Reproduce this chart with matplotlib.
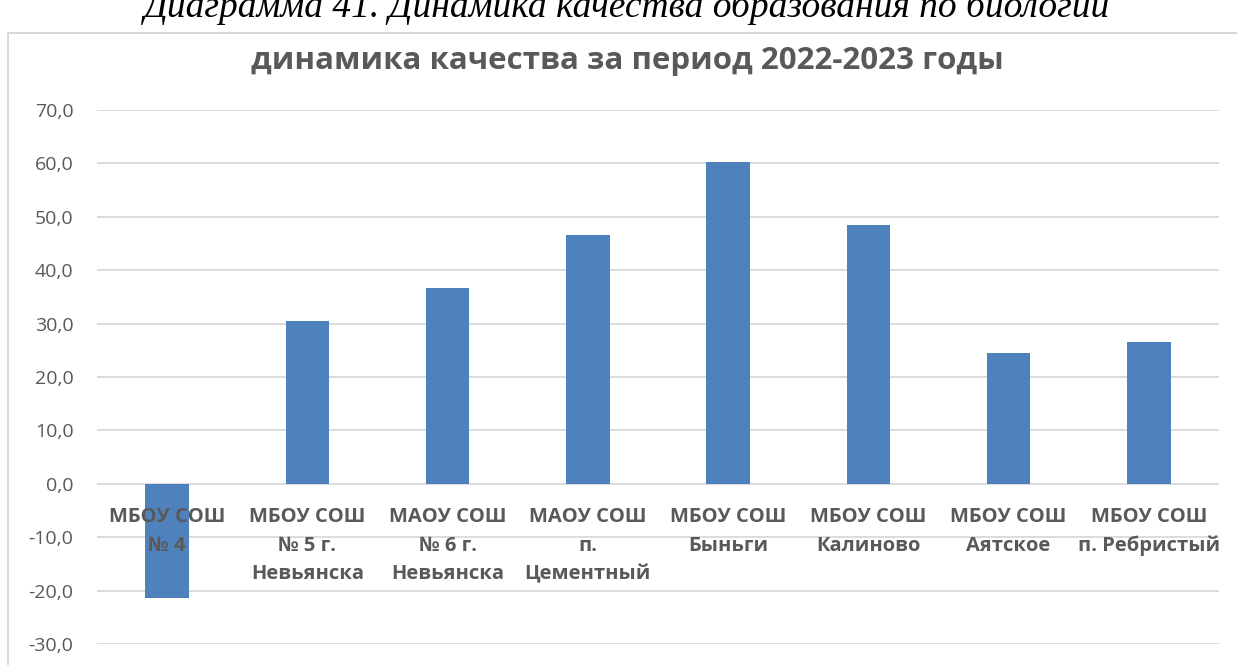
import matplotlib.pyplot as plt
from matplotlib.patches import Rectangle
from matplotlib.ticker import FuncFormatter

# Данные диаграммы
школы = ['МБОУ СОШ\n№ 4', 'МБОУ СОШ\n№ 5 г.\nНевьянска', 'МАОУ СОШ\n№ 6 г.\nНевьянска',
         'МАОУ СОШ\nп.\nЦементный', 'МБОУ СОШ\nБыньги', 'МБОУ СОШ\nКалиново',
         'МБОУ СОШ\nАятское', 'МБОУ СОШ\nп. Ребристый']
качество = [-21.3, 30.5, 36.7, 46.6, 60.2, 48.5, 24.5, 26.5]
деления = [-30, -20, -10, 0, 10, 20, 30, 40, 50, 60, 70]

серый = '#595959'
plt.rcParams['font.family'] = ['Open Sans', 'DejaVu Sans']

fig = plt.figure(figsize=(12.37, 6.65), dpi=100)
W, H = 1237, 665

# рамка диаграммы
fig.patches.append(Rectangle((8 / W, -0.01), 1.0, 1 - 33 / H + 0.01, transform=fig.transFigure,
                             fill=False, edgecolor='#d0d0d0', linewidth=1.2))

# подпись документа, обрезанная сверху
fig.text(627 / W, 1 - 17 / H, 'Диаграмма 41. Динамика качества образования по биологии',
         ha='center', va='baseline', fontsize=27, family='Liberation Serif', style='italic',
         color='black')

fig.text(627 / W, 1 - 61 / H, 'динамика качества за период 2022-2023 годы',
         ha='center', va='center', fontsize=22.5, fontweight='bold', color=серый)

ax = fig.add_axes([97 / W, 1 - 644 / H, (1219 - 97) / W, (644 - 110) / H])
x = range(len(школы))

# сетка под столбцами
for d in деления:
    ax.axhline(d, color='#d9d9d9', linewidth=1.3, zorder=0.5)
ax.bar(x, качество, width=0.31, color='#4F81BD', zorder=1.5)

ax.set_xlim(-0.5, len(школы) - 0.5)
ax.set_ylim(-30, 70)
ax.set_yticks(деления)
ax.yaxis.set_major_formatter(FuncFormatter(lambda v, p: f'{v:.1f}'.replace('.', ',')))

ax.spines['bottom'].set_position(('data', 0))
ax.spines['bottom'].set_visible(False)
for s in ['top', 'right', 'left']:
    ax.spines[s].set_visible(False)

ax.set_xticks(list(x))
ax.set_xticklabels(школы, fontsize=14.5, fontweight='bold', color=серый, linespacing=1.55)
ax.tick_params(axis='x', length=0, pad=17)
ax.tick_params(axis='y', length=0, pad=17, labelsize=14, labelcolor=серый)

fig.savefig('out.png', dpi=100)
